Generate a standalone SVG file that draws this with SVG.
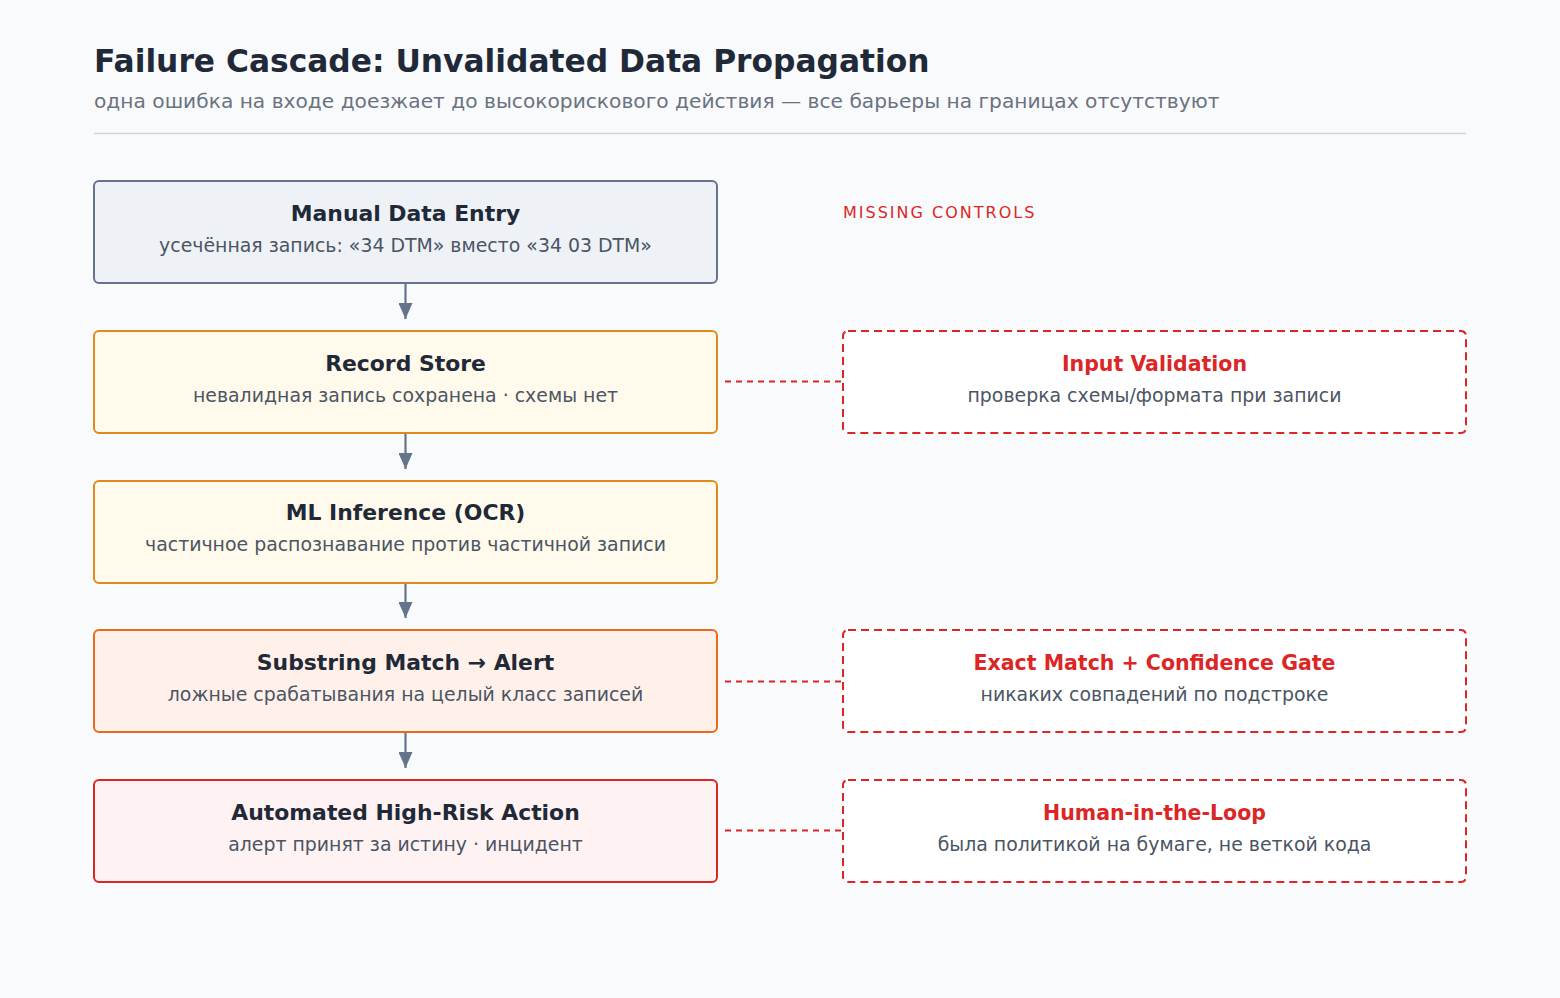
<svg xmlns="http://www.w3.org/2000/svg" width="1560" height="998" viewBox="0 0 1560 998">
<defs>
<marker id="arr" viewBox="0 0 16 14" refX="16" refY="7" markerWidth="16" markerHeight="14" markerUnits="userSpaceOnUse" orient="auto">
<path d="M0,0 L16,7 L0,14 z" fill="#64748b"/>
</marker>
<style>
text{font-family:"DejaVu Sans","Noto Sans",sans-serif;text-anchor:middle}
.h{font-size:31.3px;font-weight:bold;fill:#1f2937;text-anchor:start}
.sub{font-size:20.2px;fill:#6b7280;text-anchor:start}
.t{font-size:21.9px;font-weight:bold;fill:#1f2937}
.d{font-size:18.9px;fill:#4b5563}
.rt{font-size:20.5px;font-weight:bold;fill:#dc2626}
.box{stroke-width:2}
.ctl{fill:#ffffff;stroke:#dc2626;stroke-width:2;stroke-dasharray:8 5}
.flow{stroke:#64748b;stroke-width:2.2;fill:none}
.link{stroke:#dc2626;stroke-width:2;stroke-dasharray:6 5;fill:none}
</style>
</defs>
<rect width="1560" height="998" fill="#f8fafc"/>
<text class="h" x="94" y="72">Failure Cascade: Unvalidated Data Propagation</text>
<text class="sub" x="94" y="108">одна ошибка на входе доезжает до высокорискового действия — все барьеры на границах отсутствуют</text>
<line x1="94" y1="133.5" x2="1466" y2="133.5" stroke="#d1d5db" stroke-width="1.5"/>
<text x="843" y="218" style="font-size:16px;fill:#dc2626;letter-spacing:2px;text-anchor:start">MISSING CONTROLS</text>

<g id="connectors">
<line class="flow" x1="405.5" y1="284" x2="405.5" y2="319" marker-end="url(#arr)"/>
<line class="flow" x1="405.5" y1="434" x2="405.5" y2="469" marker-end="url(#arr)"/>
<line class="flow" x1="405.5" y1="583" x2="405.5" y2="618" marker-end="url(#arr)"/>
<line class="flow" x1="405.5" y1="733" x2="405.5" y2="768" marker-end="url(#arr)"/>
<line class="link" x1="725" y1="381.5" x2="843" y2="381.5"/>
<line class="link" x1="725" y1="681.5" x2="843" y2="681.5"/>
<line class="link" x1="725" y1="830.5" x2="843" y2="830.5"/>
</g>

<g id="n1">
<rect class="box" x="94" y="181" width="623" height="102" rx="5" fill="#eef2f7" stroke="#64748b"/>
<text class="t" x="405.5" y="221">Manual Data Entry</text>
<text class="d" x="405.5" y="252">усечённая запись: «34 DTM» вместо «34 03 DTM»</text>
</g>
<g id="n2">
<rect class="box" x="94" y="331" width="623" height="102" rx="5" fill="#fffaeb" stroke="#e08a1e"/>
<text class="t" x="405.5" y="371">Record Store</text>
<text class="d" x="405.5" y="402">невалидная запись сохранена · схемы нет</text>
</g>
<g id="n3">
<rect class="box" x="94" y="481" width="623" height="102" rx="5" fill="#fffaeb" stroke="#e08a1e"/>
<text class="t" x="405.5" y="520">ML Inference (OCR)</text>
<text class="d" x="405.5" y="551">частичное распознавание против частичной записи</text>
</g>
<g id="n4">
<rect class="box" x="94" y="630" width="623" height="102" rx="5" fill="#fff1ea" stroke="#ea6a1c"/>
<text class="t" x="405.5" y="670">Substring Match → Alert</text>
<text class="d" x="405.5" y="701">ложные срабатывания на целый класс записей</text>
</g>
<g id="n5">
<rect class="box" x="94" y="780" width="623" height="102" rx="5" fill="#fef2f2" stroke="#dc2626"/>
<text class="t" x="405.5" y="820">Automated High-Risk Action</text>
<text class="d" x="405.5" y="851">алерт принят за истину · инцидент</text>
</g>

<g id="c1">
<rect class="ctl" x="843" y="331" width="623" height="102" rx="5"/>
<text class="rt" x="1154.5" y="371">Input Validation</text>
<text class="d" x="1154.5" y="402">проверка схемы/формата при записи</text>
</g>
<g id="c2">
<rect class="ctl" x="843" y="630" width="623" height="102" rx="5"/>
<text class="rt" x="1154.5" y="670">Exact Match + Confidence Gate</text>
<text class="d" x="1154.5" y="701">никаких совпадений по подстроке</text>
</g>
<g id="c3">
<rect class="ctl" x="843" y="780" width="623" height="102" rx="5"/>
<text class="rt" x="1154.5" y="820">Human-in-the-Loop</text>
<text class="d" x="1154.5" y="851">была политикой на бумаге, не веткой кода</text>
</g>
</svg>
